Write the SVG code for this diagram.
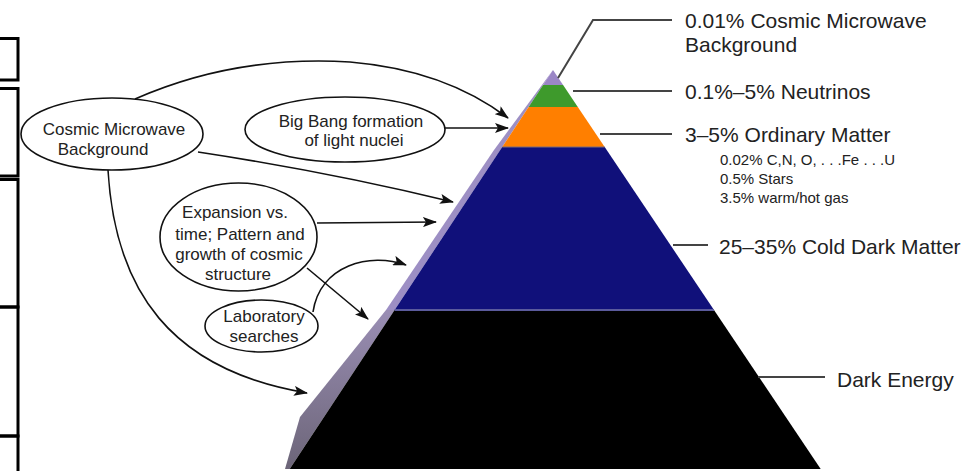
<svg xmlns="http://www.w3.org/2000/svg" width="962" height="471" viewBox="0 0 962 471">
<style>
.box{fill:none;stroke:#000;stroke-width:3}
.ell{fill:#fff;stroke:#111;stroke-width:1.6}
.arr{fill:none;stroke:#111;stroke-width:1.6;marker-end:url(#ah)}
.lead{fill:none;stroke:#444;stroke-width:2}
.t{font-family:"Liberation Sans",Arial,Helvetica,sans-serif;fill:#222}
.big{font-size:21px}
.small{font-size:15px}
.node{font-size:17px;text-anchor:middle}
</style>
<defs>
<marker id="ah" viewBox="0 0 14 10" refX="13" refY="5" markerWidth="14" markerHeight="10" markerUnits="userSpaceOnUse" orient="auto">
<path d="M0,0 L14,5 L0,10 L3,5 z" fill="#111"/>
</marker>
<linearGradient id="side" x1="0" y1="310" x2="0" y2="469" gradientUnits="userSpaceOnUse">
<stop offset="0" stop-color="#9a8eb4"/>
<stop offset="1" stop-color="#6c6578"/>
</linearGradient>
</defs>
<rect width="962" height="471" fill="#fff"/>

<g id="left-boxes">
<rect class="box" x="-10" y="38.5" width="28" height="41.5"/>
<rect class="box" x="-10" y="88.5" width="28" height="87.5"/>
<rect class="box" x="-10" y="179.5" width="28" height="127.5"/>
<rect class="box" x="-10" y="307" width="28" height="129"/>
<rect class="box" x="-10" y="436" width="28" height="50"/>
</g>

<g id="pyramid">
<polygon points="553,70 494,150 386,310 394.6,310" fill="#9d8fc4"/>
<polygon points="386,310 300,417 285,469 289.7,469 394.6,310" fill="url(#side)"/>
<polygon id="tier-cmb" points="553,70 543.1,85 563.1,85" fill="#9b86c6"/>
<polygon id="tier-neutrinos" points="543.1,85 563.1,85 577.8,107 528.6,107" fill="#3e9a2c"/>
<polygon id="tier-ordinary" points="528.6,107 577.8,107 604.7,147 502.2,147" fill="#ff7f00"/>
<polygon id="tier-cdm" points="502.2,147 604.7,147 714,310 394.6,310" fill="#10107a"/>
<polygon id="tier-de" points="394.6,310 714,310 820.7,469 289.7,469" fill="#000"/>
<line x1="502.2" y1="147" x2="604.7" y2="147" stroke="#7a6a7a" stroke-width="1.2"/>
<line x1="394.6" y1="310" x2="714" y2="310" stroke="#5a5a9c" stroke-width="2"/>
</g>

<g id="connectors">
<polyline class="lead" points="558,78 593,20 672,20"/>
<line class="lead" x1="573" y1="91" x2="672" y2="91"/>
<line class="lead" x1="600" y1="134" x2="672" y2="134"/>
<line class="lead" x1="673" y1="245" x2="708" y2="245"/>
<line class="lead" x1="758" y1="377" x2="825" y2="377"/>
<path class="arr" d="M135,99 Q235,55 350,62 Q445,70 508,118"/>
<path class="arr" d="M445,128 L508,128"/>
<path class="arr" d="M198,152 Q330,172 453,202"/>
<path class="arr" d="M108,170 C115,290 170,370 307,393"/>
<path class="arr" d="M317,223 L436,222"/>
<path class="arr" d="M307,268 L368,319"/>
<path class="arr" d="M313,312 C320,265 370,252 406,265"/>
</g>

<g id="node-cmb">
<ellipse class="ell" cx="112" cy="134" rx="91" ry="36"/>
<text class="t node" x="114" y="135">Cosmic Microwave</text>
<text class="t node" x="103" y="155">Background</text>
</g>
<g id="node-bbn">
<ellipse class="ell" cx="345" cy="129.5" rx="100" ry="32.5"/>
<text class="t node" x="351" y="127">Big Bang formation</text>
<text class="t node" x="354" y="146">of light nuclei</text>
</g>
<g id="node-expansion">
<ellipse class="ell" cx="238.5" cy="237" rx="78.5" ry="54"/>
<text class="t node" x="235" y="218">Expansion vs.</text>
<text class="t node" x="240" y="240">time; Pattern and</text>
<text class="t node" x="239" y="260">growth of cosmic</text>
<text class="t node" x="238" y="280">structure</text>
</g>
<g id="node-lab">
<ellipse class="ell" cx="261.5" cy="326" rx="56.5" ry="26"/>
<text class="t node" x="264" y="322">Laboratory</text>
<text class="t node" x="264" y="342">searches</text>
</g>

<g id="labels">
<text class="t big" x="685" y="28">0.01% Cosmic Microwave</text>
<text class="t big" x="685" y="52">Background</text>
<text class="t big" x="685" y="99">0.1%–5% Neutrinos</text>
<text class="t big" x="685" y="142">3–5% Ordinary Matter</text>
<text class="t small" x="720" y="165">0.02% C,N, O, . . .Fe . . .U</text>
<text class="t small" x="720" y="184">0.5% Stars</text>
<text class="t small" x="720" y="203">3.5% warm/hot gas</text>
<text class="t big" x="719" y="254">25–35% Cold Dark Matter</text>
<text class="t big" x="837" y="387">Dark Energy</text>
</g>
</svg>
